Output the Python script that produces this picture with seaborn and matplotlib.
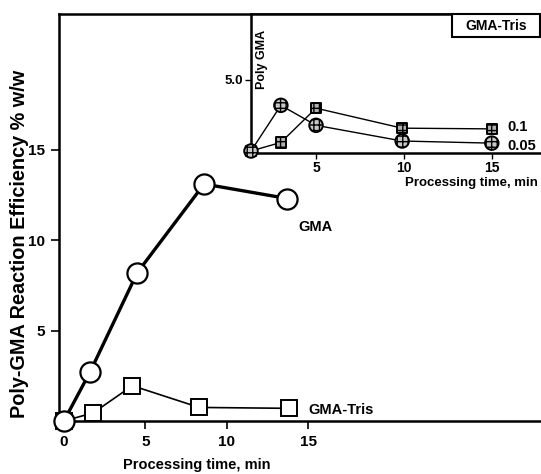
import matplotlib
matplotlib.use("Agg")
import matplotlib.pyplot as plt
from matplotlib.patches import Rectangle
import seaborn as sns
import pandas as pd

# ---- data ----
gma_time = [0, 1.6, 4.5, 8.6, 13.7]
gma_eff = [0, 2.7, 8.2, 13.1, 12.3]
tris_time = [0, 1.8, 4.2, 8.3, 13.8]
tris_eff = [0, 0.45, 1.95, 0.75, 0.7]

inset_time = [1.3, 3.0, 5.0, 9.9, 15.0]
inset_005 = [0, 3.2, 1.8, 0.7, 0.55]
inset_01 = [0, 0.6, 3.0, 1.6, 1.55]

main_xticks = [0, 5, 10, 15]
main_yticks = [5, 10, 15]
inset_xticks = [5, 10, 15]
inset_yticks = [5.0]

sns.set_theme(style="ticks")
plt.rcParams['font.family'] = ['Liberation Sans', 'DejaVu Sans']
plt.rcParams['font.weight'] = 'bold'
for k in ['text.color', 'axes.labelcolor', 'xtick.color', 'ytick.color', 'axes.edgecolor']:
    plt.rcParams[k] = 'black'

W, H = 541, 474
fig = plt.figure(figsize=(W / 100, H / 100), dpi=100)

def fx(px):
    return px / W

def fy(py):
    return 1 - py / H

ax = fig.add_axes([fx(59), fy(421), fx(540) - fx(59), fy(14) - fy(421)])
ax.set_facecolor('white')

df_gma = pd.DataFrame({'t': gma_time, 'v': gma_eff})
df_tris = pd.DataFrame({'t': tris_time, 'v': tris_eff})

sns.lineplot(data=df_tris, x='t', y='v', ax=ax, sort=False, color='black', lw=1.2,
             marker='s', markersize=11.5, markerfacecolor='white', markeredgecolor='black',
             markeredgewidth=1.4, clip_on=False, zorder=3)
sns.lineplot(data=df_gma, x='t', y='v', ax=ax, sort=False, color='black', lw=2.4,
             marker='o', markersize=14.5, markerfacecolor='white', markeredgecolor='black',
             markeredgewidth=1.6, clip_on=False, zorder=4)

ax.set_xlim(-0.3, 29.2)
ax.set_ylim(0, 22.5)
ax.set_xticks(main_xticks)
ax.set_xticklabels([str(v) for v in main_xticks], fontsize=11, fontweight='bold')
ax.set_yticks(main_yticks)
ax.set_yticklabels([str(v) for v in main_yticks], fontsize=11, fontweight='bold')
ax.tick_params(direction='out', length=6, width=1.2, pad=4)
for s in ax.spines.values():
    s.set_linewidth(1.8)
ax.spines['right'].set_visible(False)
ax.set_xlabel('Processing time, min', fontsize=10.5, fontweight='bold')
ax.set_ylabel('Poly-GMA Reaction Efficiency % w/w', fontsize=14.3, fontweight='bold')
ax.xaxis.set_label_coords((197 - 59) / (540 - 59), -(465 - 421) / (421 - 14), transform=ax.transAxes)
ax.xaxis.label.set_va('center')
ax.yaxis.set_label_coords(-(59 - 20) / (540 - 59), (421 - 244) / (421 - 14), transform=ax.transAxes)
ax.yaxis.label.set_va('center')

ax.text(14.4, 10.7, 'GMA', fontsize=10.5, fontweight='bold', va='center', ha='left')
ax.text(15.0, 0.6, 'GMA-Tris', fontsize=10.5, fontweight='bold', va='center', ha='left')

# ---- inset ----
ia = fig.add_axes([fx(251), fy(153), fx(541) - fx(251), fy(14) - fy(153)])
ia.set_facecolor('white')
df_i1 = pd.DataFrame({'t': inset_time, 'v': inset_005})
df_i2 = pd.DataFrame({'t': inset_time, 'v': inset_01})
sns.lineplot(data=df_i2, x='t', y='v', ax=ia, sort=False, color='black', lw=1.0, zorder=2)
sns.lineplot(data=df_i1, x='t', y='v', ax=ia, sort=False, color='black', lw=1.0, zorder=2)
sns.scatterplot(data=df_i2, x='t', y='v', ax=ia, marker='s', s=55, color='#b0b0b0',
                edgecolor='black', linewidth=1.4, hatch='+++', clip_on=False, zorder=3)
sns.scatterplot(data=df_i1, x='t', y='v', ax=ia, marker='o', s=95, color='#c8c8c8',
                edgecolor='black', linewidth=1.4, hatch='+++', clip_on=False, zorder=4)
ia.set_xlim(1.3, 17.8)
ia.set_ylim(-0.14, 9.6)
ia.set_xticks(inset_xticks)
ia.set_xticklabels([str(v) for v in inset_xticks], fontsize=10, fontweight='bold')
ia.set_yticks(inset_yticks)
ia.set_yticklabels(['5.0'], fontsize=9.5, fontweight='bold')
ia.tick_params(direction='out', length=4, width=1.0, pad=2)
for s in ia.spines.values():
    s.set_linewidth(1.8)
ia.spines['right'].set_visible(False)
ia.set_xlabel('')
ia.set_ylabel('')
ia.text((538 - 251) / (541 - 251), -(183 - 153) / (153 - 14), 'Processing time, min',
        transform=ia.transAxes, fontsize=9.5, fontweight='bold', ha='right', va='center')
ia.text((262 - 251) / (541 - 251), (153 - 59) / (153 - 14), 'Poly GMA', transform=ia.transAxes,
        fontsize=9, fontweight='bold', rotation=90, ha='center', va='center')
ia.text(15.9, 1.7, '0.1', fontsize=10.5, fontweight='bold', va='center', ha='left')
ia.text(15.9, 0.35, '0.05', fontsize=10.5, fontweight='bold', va='center', ha='left')

fig.patches.append(Rectangle((fx(452), fy(37)), fx(540) - fx(452), fy(14) - fy(37),
                             transform=fig.transFigure, facecolor='white', edgecolor='black',
                             linewidth=1.5, zorder=5))
fig.text(fx(496), fy(25.5), 'GMA-Tris', fontsize=10, fontweight='bold', ha='center',
         va='center', zorder=6)

fig.savefig('out.png', dpi=100)
